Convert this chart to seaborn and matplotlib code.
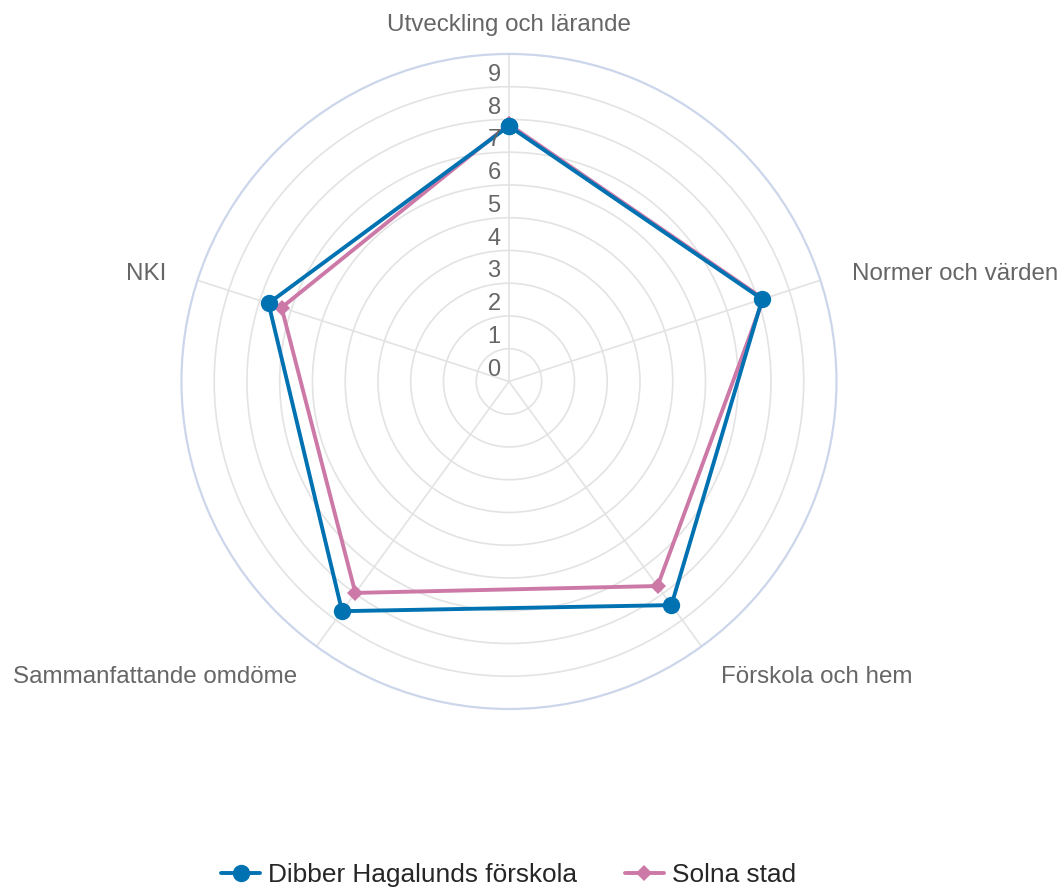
import numpy as np
import pandas as pd
import matplotlib
matplotlib.use("Agg")
import matplotlib.pyplot as plt
import matplotlib.colors as mcolors
import seaborn as sns

# Data
categories = ["Utveckling och lärande", "Normer och värden", "Förskola och hem",
              "Sammanfattande omdöme", "NKI"]
dibber = [7.8, 8.13, 8.44, 8.67, 7.72]
solna = [7.85, 8.17, 7.72, 7.98, 7.3]
series_names = ["Dibber Hagalunds förskola", "Solna stad"]
r_ticks = list(range(0, 10))

colors = {"Dibber Hagalunds förskola": "#0072B2", "Solna stad": "#CC79A7"}

sns.set_style("white")
plt.rcParams["font.family"] = ["Liberation Sans", "DejaVu Sans"]

n = len(categories)
angles = np.linspace(0, 2 * np.pi, n, endpoint=False)

# closed polygons (first point repeated at 2*pi)
rows = []
for name, vals in zip(series_names, [dibber, solna]):
    for i in range(n):
        rows.append({"serie": name, "theta": angles[i], "value": vals[i]})
    rows.append({"serie": name, "theta": 2 * np.pi, "value": vals[0]})
df = pd.DataFrame(rows)

fig = plt.figure(figsize=(10.63, 8.89), dpi=100)
ax = fig.add_axes([0.1707, 0.2025, 0.6162, 0.7368], projection="polar")
ax.set_theta_zero_location("N")
ax.set_theta_direction(-1)

sns.lineplot(data=df, x="theta", y="value", hue="serie", style="serie",
             hue_order=series_names, style_order=series_names,
             markers={"Dibber Hagalunds förskola": "o", "Solna stad": "D"},
             dashes=False, sort=False, estimator=None, palette=colors,
             linewidth=2.8, markersize=12.5, markeredgewidth=0, ax=ax)

pink = mcolors.to_hex(colors["Solna stad"])
for line in ax.lines:
    if mcolors.to_hex(line.get_color()) == pink:
        line.set_zorder(2)
        line.set_markersize(8.5)
    else:
        line.set_zorder(3)

ax.set_ylim(0, 10)
ax.set_yticks(range(1, 10))
ax.set_yticklabels([])
ax.set_xticks(angles)
ax.set_xticklabels([])
ax.set_xlabel("")
ax.set_ylabel("")
ax.grid(True, color="#e3e3e3", linewidth=1.2)
ax.spines["polar"].set_color("#ccd6eb")
ax.spines["polar"].set_linewidth(1.6)

# radial tick labels
for t in r_ticks:
    ax.annotate(str(t), xy=(0, t), xytext=(-6, 8.5), textcoords="offset points",
                ha="right", va="center", fontsize=17, color="#666666")

# category labels
has = ["center", "left", "left", "right", "right"]
for ang, lab, ha in zip(angles, categories, has):
    ax.annotate(lab, xy=(ang, 11), xytext=(0, -3), textcoords="offset points",
                ha=ha, va="center", fontsize=17.4, color="#666666",
                annotation_clip=False)

ax.get_legend().remove()
handles, labels = ax.get_legend_handles_labels()
for h in handles:
    if mcolors.to_hex(h.get_color()) == pink:
        h.set_markersize(8.5)
fig.legend(handles[:2], labels[:2], loc="center", bbox_to_anchor=(0.4784, 0.016),
           ncol=2, frameon=False, fontsize=18.9, handlelength=1.5,
           columnspacing=1.8, handletextpad=0.3)

fig.savefig("out.png", dpi=100, facecolor="white")
